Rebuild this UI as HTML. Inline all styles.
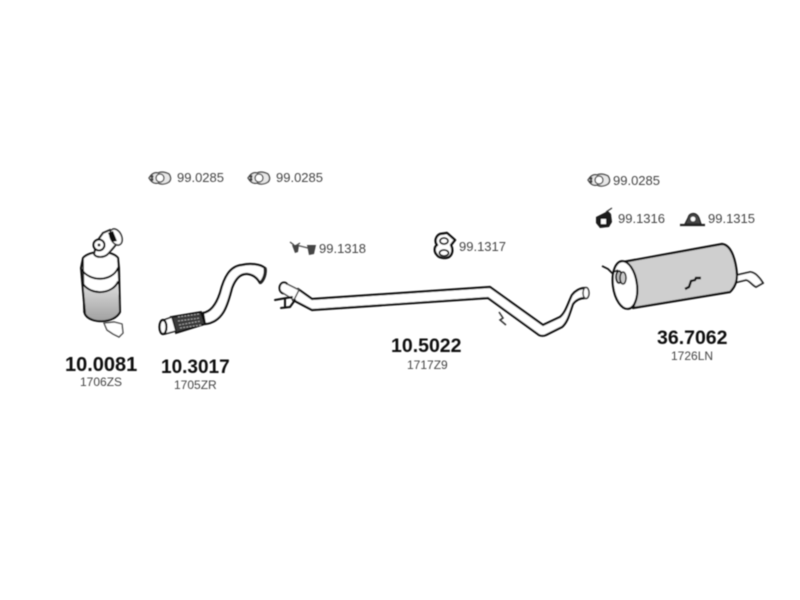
<!DOCTYPE html>
<html>
<head>
<meta charset="utf-8">
<style>
html,body{margin:0;padding:0;background:#fff;width:800px;height:600px;overflow:hidden}
svg{display:block}
text{font-family:"Liberation Sans",sans-serif;fill:#222}
.b{font-weight:bold;fill:#111}
.s{fill:#444;font-size:12px}
.r{fill:#444;font-size:13px}
.l{fill:none;stroke:#111;stroke-width:2;stroke-linejoin:round;stroke-linecap:round}
</style>
</head>
<body>
<svg width="800" height="600" viewBox="0 0 800 600" xmlns="http://www.w3.org/2000/svg">
<defs>
<linearGradient id="g" x1="0" y1="0" x2="0" y2="1"><stop offset="0" stop-color="#e2e2e2"/><stop offset="1" stop-color="#a0a0a0"/></linearGradient>
<filter id="bl" x="-5%" y="-5%" width="110%" height="110%"><feGaussianBlur stdDeviation="0.6"/></filter>
<g id="gasket" fill="#e8e8e8" stroke="#444" stroke-width="1.300">
<path d="M0,0 C3,-5 6,-6 9,-5 C12,-6.500 16,-6 20,-4 C22,-1 22,2 20,4 C16,6.500 12,6.500 9,5 C6,6 3,5 0,0 Z"/>
<circle cx="11" cy="0" r="4" fill="#fff"/>
<circle cx="3" cy="-1.500" r=".9" fill="#444"/><circle cx="3" cy="1.500" r=".9" fill="#444"/>
</g>
</defs>
<g filter="url(#bl)">
<!-- catalyst -->
<path d="M83,258 C90,250 112,250 118,258 L120,312 C116,322 88,326 84,312 Z" fill="#fff" stroke="#222" stroke-width="1.600"/>
<path d="M83,284 C92,297 112,295 117,280 L120,312 C116,323 90,325 85,314 Z" fill="url(#g)"/>
<path d="M83,258 L81,268 L85,314 C90,324 114,324 120,312 L119,268 L118,258 C112,250 90,250 83,258 Z" class="l"/>
<path d="M82,270 C90,282 112,282 118,268" class="l"/>
<path d="M83,284 C92,296 112,294 118,282" class="l"/>
<path d="M94,254 C96,258 104,258 108,254 L114,247 L118,242 L110,230 L103,233 L98,240 Z" fill="#fff" stroke="#222" stroke-width="2"/>
<ellipse cx="116" cy="237" rx="5.500" ry="8.500" fill="#fff" stroke="#333" stroke-width="1.600" transform="rotate(-25 116 237)"/>
<path d="M113,231 L117,241 L112,242 L108,233 Z" fill="#111"/>
<circle cx="99" cy="245" r="5.500" fill="#fff" stroke="#111" stroke-width="2"/>
<circle cx="99" cy="245" r="1.500" fill="#333"/>
<path d="M104,323 L107,330 L113,334 L119,337 L123,333 L122,324 L114,322 Z" fill="#fff" stroke="#444" stroke-width="1.400"/>

<!-- front pipe -->
<path d="M203,313 C210,312 216,305 220,293 C224,277 230,266 242,265 C250,263 260,264 265,268 C266,273 264,280 260,283 C258,279 254,275 248,274 C240,273 235,280 232,288 C228,303 224,322 205,324 Z" fill="#fff" stroke="#111" stroke-width="2.200" stroke-linejoin="round"/>
<path d="M265,268 C266,273 264,280 260,283" fill="none" stroke="#222" stroke-width="3.200"/>
<path d="M171,317 L201,312 L205,324 L176,333 Z" fill="#3a3a3a" stroke="#111" stroke-width="1.800"/>
<path d="M178,317 L199,314 M178,321 L200,318 M179,325 L201,321 M180,328 L201,325" stroke="#aaa" stroke-width="1" stroke-dasharray="2 1.200"/>
<path d="M161,321 L172,317 L176,331 L165,334 Z" fill="#fff" stroke="#222" stroke-width="1.600"/>
<ellipse cx="163" cy="327" rx="3.500" ry="7" fill="#fff" stroke="#111" stroke-width="2.200"/>

<!-- intermediate pipe -->
<path d="M298,289 L312,299 L490,287 L543,325 L560,317 C566,312 568,303 572,295 C575,291 580,288 585,288 L585,298 C580,298 576,300 573,304 C570,312 568,322 562,327 L546,335 C544,336 541,336 539,335 L488,298 L312,310 L293,300 Z" fill="#fff" stroke="#111" stroke-width="2.200" stroke-linejoin="round"/>
<ellipse cx="284" cy="288" rx="4.500" ry="5.500" fill="#fff" stroke="#111" stroke-width="2"/>
<path d="M287,284 L299,290 L294,300 L283,293" fill="#fff" stroke="#444" stroke-width="1.400"/>
<path d="M275,300 L292,297 M281,308 L290,307 L295,300 M285,299 L285,307" class="l" stroke-width="1.500"/>
<ellipse cx="586" cy="293" rx="3" ry="5.500" fill="#fff" stroke="#333" stroke-width="1.500"/>
<path d="M499,312 L503,318 L500,320 L506,325" fill="none" stroke="#333" stroke-width="1.500"/>

<!-- muffler -->
<path d="M737,275 L750,272 C755,272 760,278 763,283 L756,287 C752,285 749,280 746,280 L734,283 Z" fill="#fff" stroke="#222" stroke-width="1.800"/>
<path d="M623,262 L722,244 C732,245 736,262 737,275 C737,282 734,288 730,292 L633,308 C640,290 636,268 623,262 Z" fill="#cfcfcf" stroke="#111" stroke-width="2.200" stroke-linejoin="round"/>
<ellipse cx="625" cy="285" rx="12" ry="24" fill="#fff" stroke="#111" stroke-width="2.200" transform="rotate(-8 625 285)"/>
<ellipse cx="619" cy="277" rx="3" ry="6" fill="#bbb" stroke="#111" stroke-width="1.800"/>
<ellipse cx="623" cy="278" rx="3" ry="6" fill="#ccc" stroke="#222" stroke-width="1.600"/>
<path d="M602,266 L608,269 L612,273 L618,270" fill="none" stroke="#111" stroke-width="1.700"/>
<path d="M685,289 L689,287 L691,281 L695,280 L696,278 L701,278" fill="none" stroke="#111" stroke-width="2.400"/>

<!-- small parts -->
<use href="#gasket" x="149" y="178"/>
<use href="#gasket" x="248" y="178"/>
<use href="#gasket" x="588" y="180"/>

<path d="M296,245 L308,248" fill="none" stroke="#555" stroke-width="1.200"/>
<path d="M290,242 L294,245 M300,243 L297,245" fill="none" stroke="#444" stroke-width="1.200"/>
<path d="M292,245 L299,245 L298,252 L295,253 Z" fill="#444"/>
<path d="M307,245 L316,245 L314,254 L309,255 Z" fill="#444"/>

<path d="M440,234 L447,233 L455,240 L451,245 C453,249 453,254 449,257 C445,259 439,258 437,255 C434,252 434,247 437,245 C434,241 436,236 440,234 Z" fill="#fff" stroke="#111" stroke-width="2.400" stroke-linejoin="round"/>
<ellipse cx="444" cy="241" rx="4" ry="3" fill="#fff" stroke="#111" stroke-width="1.800"/>
<ellipse cx="444" cy="253" rx="4.500" ry="3" fill="#fff" stroke="#111" stroke-width="1.800"/>

<path d="M596,217 L602,214 L608,211 L611,214 L612,222 L609,227 L600,228 L596,223 Z" fill="#1c1c1c"/>
<path d="M606,212 L612,208" stroke="#333" stroke-width="1.200"/>
<rect x="601" y="219" width="5" height="5" fill="#fff"/>

<path d="M685,224 L688,218 C689,212 697,212 699,218 L701,224 Z" fill="#444" stroke="#222" stroke-width="1.200"/>
<circle cx="693" cy="219" r="2.400" fill="#fff"/>
<path d="M680,225 L705,225" stroke="#222" stroke-width="2.200"/>

<!-- labels -->
<text class="r" x="177" y="182">99.0285</text>
<text class="r" x="276" y="182">99.0285</text>
<text class="r" x="613" y="185">99.0285</text>
<text class="r" x="618" y="223">99.1316</text>
<text class="r" x="708" y="223">99.1315</text>
<text class="r" x="319" y="253">99.1318</text>
<text class="r" x="459" y="251">99.1317</text>

<text class="b" x="65" y="371" font-size="20">10.0081</text>
<text class="s" x="80" y="386">1706ZS</text>
<text class="b" x="161" y="373" font-size="19">10.3017</text>
<text class="s" x="174" y="389">1705ZR</text>
<text class="b" x="391" y="352" font-size="19.500">10.5022</text>
<text class="s" x="407" y="369">1717Z9</text>
<text class="b" x="657" y="344" font-size="19.500">36.7062</text>
<text class="s" x="671" y="360">1726LN</text>
</g>
</svg>
</body>
</html>
